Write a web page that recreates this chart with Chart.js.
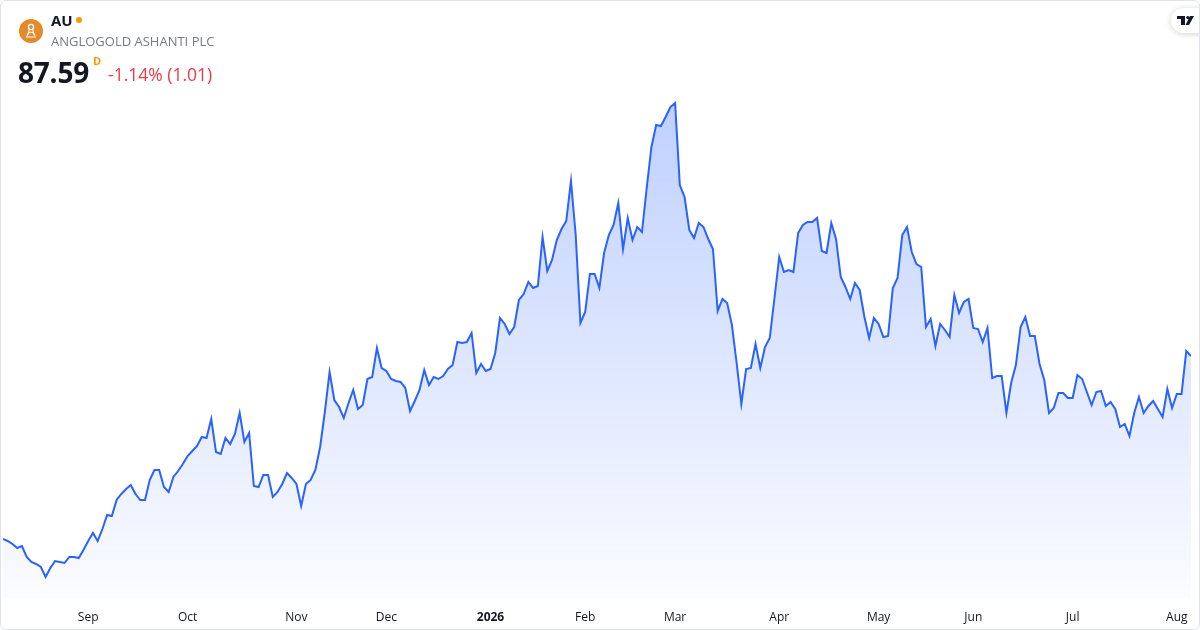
<!DOCTYPE html>
<html>
<head>
<meta charset="utf-8">
<script src="https://cdn.jsdelivr.net/npm/chart.js@4.4.1/dist/chart.umd.min.js"></script>
<style>
  html, body { margin: 0; padding: 0; background: #fff; }
  #card { position: relative; width: 1200px; height: 630px; overflow: hidden; font-family: "Open Sans", "Noto Sans", sans-serif; }
  #frame { position: absolute; left: 0; top: 0; width: 1198px; height: 628px; border: 1px solid #e0e3eb; border-radius: 6px; pointer-events: none; }
  #chart { position: absolute; left: 0; top: 0; }
  .t { position: absolute; white-space: nowrap; }
  #logo { position: absolute; left: 19px; top: 19px; width: 24px; height: 24px; border-radius: 50%; background: #e48a2a; }
  #sym { left: 51px; top: 10px; font-size: 15px; font-weight: 700; color: #131722; }
  #dot { position: absolute; left: 76px; top: 17px; width: 6px; height: 6px; border-radius: 50%; background: #ff9800; }
  #name { left: 51px; top: 32px; font-size: 13px; color: #787b86; }
  #price { left: 18px; top: 53px; font-size: 28px; font-weight: 700; color: #131722; letter-spacing: -0.2px; }
  #dflag { left: 93px; top: 53px; font-size: 11px; font-weight: 700; color: #ff9800; }
  #chg { left: 108px; top: 62px; font-size: 17.5px; color: #f23645; }
  #tv { position: absolute; left: 1171px; top: 8px; width: 44px; height: 25px; border-radius: 13px; background: #fff; box-shadow: 0 1px 6px rgba(0,0,0,0.18); }
</style>
</head>
<body>
<div id="card">
  <canvas id="chart" width="1200" height="630"></canvas>
  <div id="logo">
    <svg width="24" height="24" viewBox="0 0 24 24">
      <circle cx="12" cy="8" r="2.6" fill="none" stroke="#fff" stroke-width="1.3"/>
      <path d="M8 17 C9 12 15 12 16 17 M7 18 L17 18 M10 11 L9 16 M14 11 L15 16" fill="none" stroke="#fff" stroke-width="1.2"/>
    </svg>
  </div>
  <div class="t" id="sym">AU</div>
  <div id="dot"></div>
  <div class="t" id="name">ANGLOGOLD ASHANTI PLC</div>
  <div class="t" id="price">87.59</div>
  <div class="t" id="dflag">D</div>
  <div class="t" id="chg">-1.14% (1.01)</div>
  <div id="tv">
    <svg width="30" height="25" viewBox="0 0 30 25">
      <rect x="6" y="8" width="8" height="3" fill="#131722"/>
      <rect x="10" y="8" width="4" height="9" fill="#131722"/>
      <circle cx="16.8" cy="9.6" r="1.6" fill="#131722"/>
      <polygon points="19,8 23,8 18,17 14.5,17" fill="#131722"/>
    </svg>
  </div>
  <div id="frame"></div>
</div>
<script>
// daily closes, Aug 2025 - Aug 2026
const prices = [
  51.0, 50.6, 50.0, 49.2, 49.6, 47.4, 46.4, 46.0, 45.4, 43.4, 45.2, 46.6, 46.4, 46.2, 47.4, 47.4, 47.2, 48.8, 50.6, 52.2,
  50.6, 53.0, 55.8, 55.6, 58.8, 60.0, 61.0, 61.8, 60.0, 58.8, 58.8, 62.8, 64.8, 64.8, 61.4, 60.4, 63.4, 64.6, 66.0, 67.6,
  68.6, 69.6, 71.4,
  71.2, 75.0, 68.4, 68.0, 71.2, 70.0, 72.0, 76.2, 70.4, 72.2, 61.6, 61.4, 63.8, 63.8, 59.4, 60.4, 62.0, 64.2, 63.2, 62.0,
  57.6, 62.0, 62.8, 64.8, 69.4, 76.4, 84.4, 78.8, 77.4, 75.2, 78.2, 80.8, 77.0, 77.8, 83.0, 83.4, 89.2, 85.2, 84.6, 83.0,
  82.6, 82.4,
  81.2, 76.6, 78.6, 80.8, 84.8, 81.8, 83.4, 83.0, 83.6, 85.0, 85.8, 90.4, 90.2, 90.4, 92.2, 84.2, 86.0, 84.6, 85.0, 88.2,
  95.2, 94.0, 92.0, 93.4, 98.8, 100.0, 102.4, 101.2, 101.6, 111.4, 104.6, 106.8, 110.8, 113.0, 114.6, 122.6, 111.8, 94.2, 96.4, 104.0,
  104.0,
  101.2, 108.2, 111.8, 113.8, 118.2, 109.0, 115.2, 110.8, 113.4, 112.4, 121.2, 129.4, 133.8, 133.6, 135.4, 137.4, 138.2, 121.8, 119.4, 112.8,
  111.2, 114.2, 113.4, 111.0, 109.0, 96.6, 99.0, 98.2, 93.8, 86.2, 78.0, 85.0, 85.2, 90.0, 85.2, 89.4, 91.2, 99.2, 107.4, 104.4,
  104.8,
  104.4, 112.2, 113.8, 114.4, 114.4, 115.2, 108.6, 108.2, 114.2, 111.0, 103.4, 101.4, 99.0, 102.2, 100.8, 95.4, 91.2, 95.2, 94.0, 91.4,
  91.6, 101.2, 103.2, 111.8, 113.4, 108.4, 106.0, 105.4, 93.4, 95.0, 89.6, 94.0, 92.8, 91.4, 99.8, 96.2, 98.4, 99.0, 93.2, 93.0,
  90.4, 93.2, 83.2,
  83.6, 83.6, 76.2, 82.2, 85.8, 93.4, 95.4, 91.6, 91.6, 86.0, 82.8, 76.2, 77.2, 80.2, 80.2, 79.2, 79.2, 83.8, 83.0, 80.4,
  77.8, 80.4, 80.6, 77.6, 78.4, 77.0, 73.4, 74.0, 71.6, 76.2, 79.4, 76.2, 77.6, 78.6, 77.0, 75.4, 81.0, 77.2, 80.0, 80.0,
  88.60, 87.59
];
// first trading day of each month (index into prices) and its label
const monthPos = [18, 39, 62, 81, 103, 123, 142, 164, 185, 205, 226, 248];
const monthNames = ['Sep', 'Oct', 'Nov', 'Dec', '2026', 'Feb', 'Mar', 'Apr', 'May', 'Jun', 'Jul', 'Aug'];

function areaFill(context) {
    const chart = context.chart;
    const area = chart.chartArea;
    if (!area) return 'rgba(41, 98, 255, 0.1)';
    const g = chart.ctx.createLinearGradient(0, area.top, 0, area.bottom);
    g.addColorStop(0, 'rgba(41, 98, 255, 0.30)');
    g.addColorStop(1, 'rgba(41, 98, 255, 0.02)');
    return g;
}

const chart = new Chart(document.getElementById('chart'), {
    type: 'line',
    data: {
        datasets: [{
            data: prices.map((p, i) => ({ x: i, y: p })),
            borderColor: '#2962ff',
            borderWidth: 2,
            backgroundColor: areaFill,
            fill: 'start',
            pointRadius: 0,
            tension: 0
        }]
    },
    options: {
        responsive: false,
        animation: false,
        devicePixelRatio: 1,
        layout: {
            padding: { top: 95, left: 3, right: 9, bottom: 0 }
        },
        plugins: {
            legend: { display: false },
            tooltip: { enabled: false }
        },
        scales: {
            x: {
                type: 'linear',
                min: 0,
                max: prices.length - 1,
                grid: { display: false, drawTicks: false },
                border: { display: false },
                afterBuildTicks: axis => {
                    axis.ticks = monthPos.map(v => ({ value: v }));
                },
                afterFit: axis => {
                    axis.height = 32;
                },
                ticks: {
                    autoSkip: false,
                    maxRotation: 0,
                    padding: 12,
                    color: '#131722',
                    font: ctx => ({
                        family: '"Open Sans", sans-serif',
                        size: 12,
                        weight: ctx.tick && ctx.tick.value === 103 ? 'bold' : 'normal'
                    }),
                    callback: value => {
                        const k = monthPos.indexOf(value);
                        return k >= 0 ? monthNames[k] : '';
                    }
                }
            },
            y: {
                display: false,
                min: 39.2,
                max: 139.8
            }
        }
    }
});
</script>
</body>
</html>
